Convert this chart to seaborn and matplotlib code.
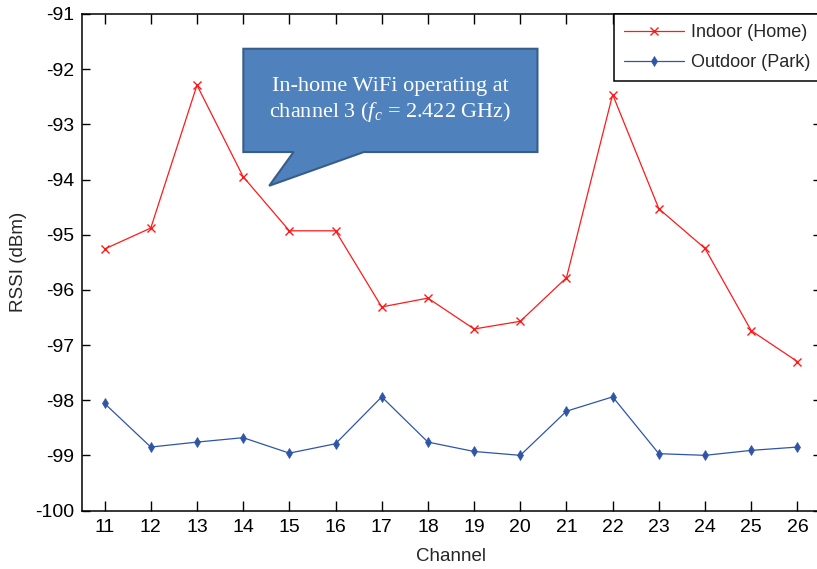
import matplotlib
matplotlib.use("Agg")
import matplotlib.pyplot as plt
import seaborn as sns
import pandas as pd
from matplotlib.patches import Polygon

channels = [11, 12, 13, 14, 15, 16, 17, 18, 19, 20, 21, 22, 23, 24, 25, 26]
indoor = [-95.26, -94.88, -92.29, -93.95, -94.93, -94.93, -96.31, -96.15,
          -96.71, -96.57, -95.78, -92.46, -94.53, -95.25, -96.74, -97.30]
outdoor = [-98.06, -98.85, -98.76, -98.68, -98.96, -98.79, -97.94, -98.76,
           -98.93, -99.00, -98.20, -97.94, -98.97, -99.00, -98.91, -98.85]
yticks = list(range(-100, -90))
labels = ["Indoor (Home)", "Outdoor (Park)"]
callout_text = "In-home WiFi operating at\nchannel 3 ($f_c$ = 2.422 GHz)"

sns.set_style("white")
plt.rcParams['font.family'] = ['Liberation Sans', 'DejaVu Sans']
plt.rcParams['axes.unicode_minus'] = False
plt.rcParams['mathtext.fontset'] = 'custom'
plt.rcParams['mathtext.it'] = 'Liberation Serif:italic'
plt.rcParams['mathtext.rm'] = 'Liberation Serif'

df = pd.DataFrame({"Channel": channels, "Indoor": indoor, "Outdoor": outdoor})

W, H = 817, 569
fig = plt.figure(figsize=(W / 100, H / 100), dpi=100)
left, right, top, bottom = 81.5, 820.5, 14, 510.5
ax = fig.add_axes([left / W, 1 - bottom / H, (right - left) / W, (bottom - top) / H])

sns.lineplot(data=df, x="Channel", y="Indoor", ax=ax, color="#FF1A1A", lw=0.9,
             marker="x", markersize=6, markeredgewidth=1.0, markeredgecolor="#FF1A1A",
             label=labels[0])
sns.lineplot(data=df, x="Channel", y="Outdoor", ax=ax, color="#2F55A8", lw=0.9,
             marker="d", markersize=5, markeredgewidth=0.5, markeredgecolor="#2F55A8",
             label=labels[1])

ax.set_xlim(10.5, 26.5)
ax.set_ylim(-100, -91)
ax.set_xticks(channels)
ax.set_yticks(yticks)
ax.set_xlabel("Channel", fontsize=13.5, labelpad=9)
ax.set_ylabel("RSSI (dBm)", fontsize=13.5, labelpad=6)
ax.tick_params(axis='both', direction='in', top=True, right=True, bottom=True,
               left=True, labelsize=14, width=1.0, colors='black')
ax.tick_params(axis='x', length=7, pad=6)
ax.tick_params(axis='y', length=6, pad=5)
for s in ax.spines.values():
    s.set_visible(True)
    s.set_color('black')
    s.set_linewidth(1.1)

leg = ax.legend(loc='upper right', bbox_to_anchor=(1.0, 1.0), borderaxespad=0,
                fontsize=13, handlelength=3.3, fancybox=False, framealpha=1,
                edgecolor='black', borderpad=0.55, labelspacing=0.75, handletextpad=0.4)
leg.get_frame().set_linewidth(1.1)

# callout shape in axes-fraction coordinates
pts = [(0.219, 0.930), (0.617, 0.930), (0.617, 0.722), (0.382, 0.722),
       (0.254, 0.654), (0.287, 0.722), (0.219, 0.722)]
poly = Polygon(pts, closed=True, transform=ax.transAxes, facecolor="#4F81BD",
               edgecolor="#385D8A", lw=1.5, zorder=5)
ax.add_patch(poly)
ax.text(0.418, 0.826, callout_text, transform=ax.transAxes, ha='center', va='center',
        color='white', fontsize=16, family=['Liberation Serif'], linespacing=1.25,
        zorder=6)

fig.savefig("out.png", dpi=100, facecolor='white')
